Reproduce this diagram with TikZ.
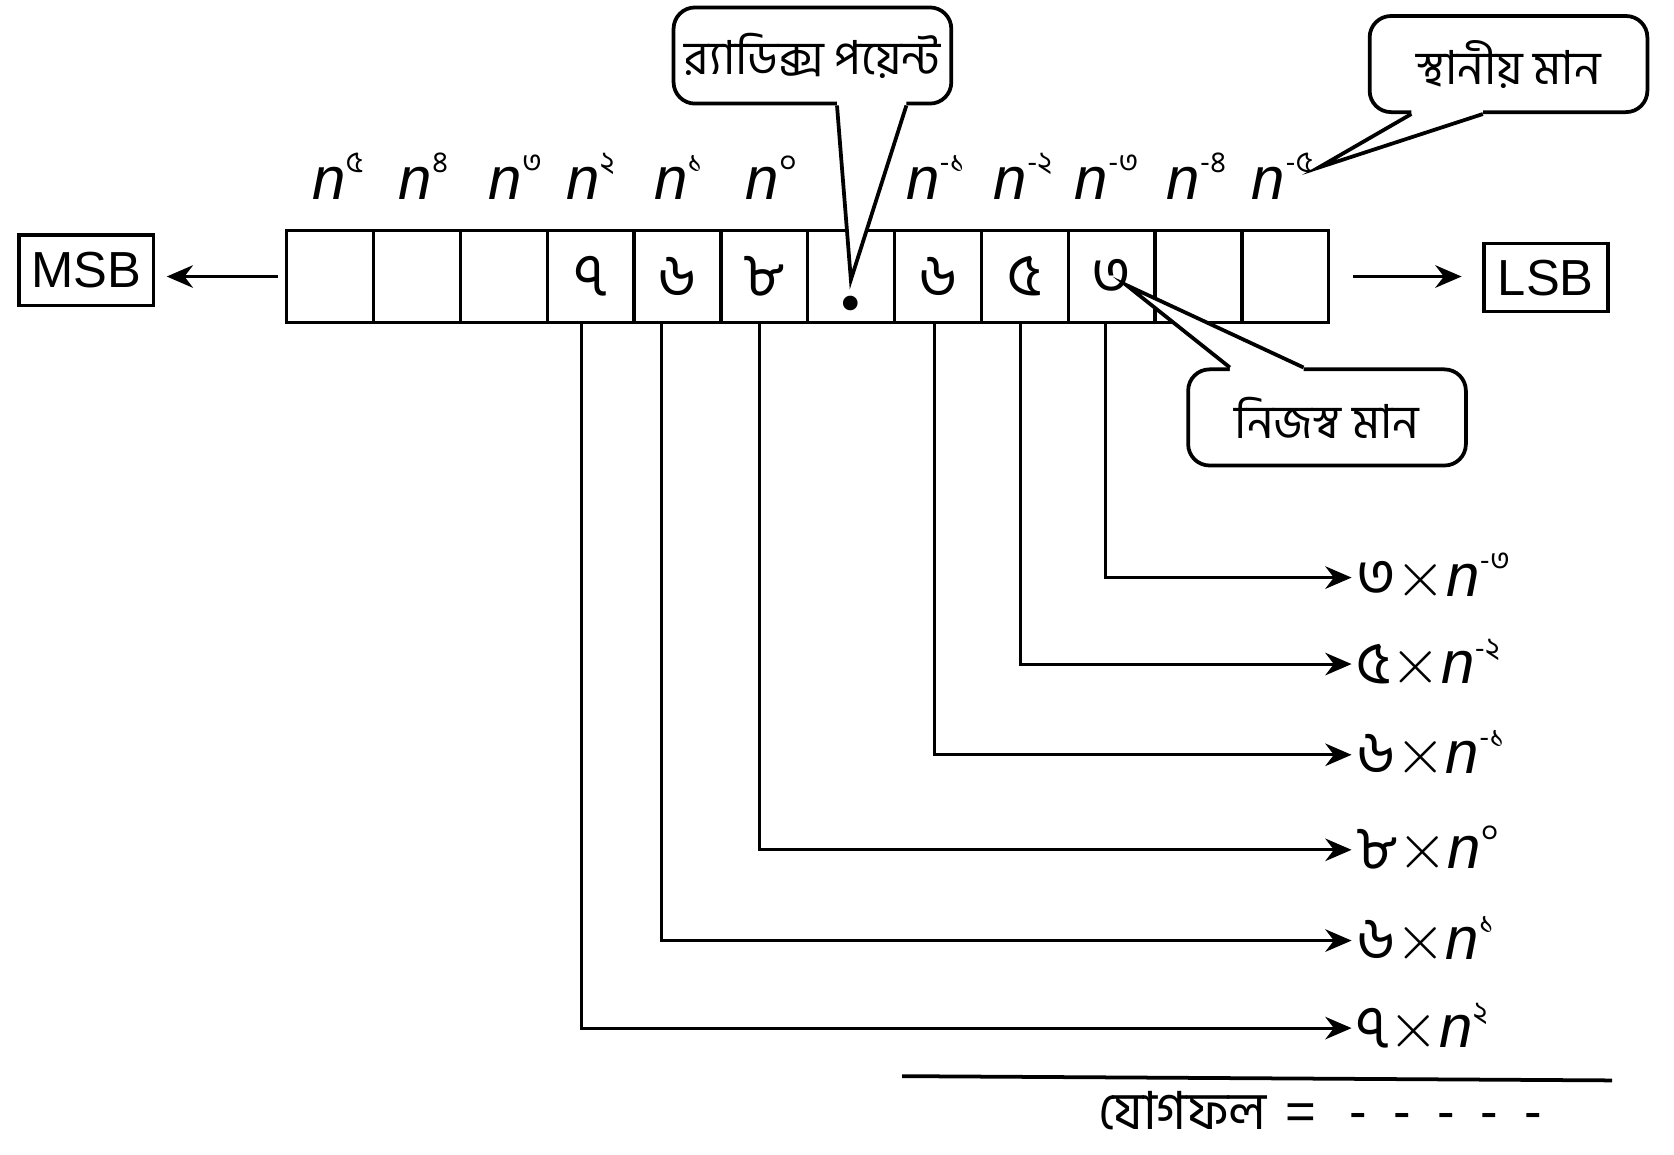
\documentclass[tikz,border=0pt]{standalone}
\usepackage{fontspec}
\setmainfont{Liberation Sans}
\newfontfamily\bn[Script=Bengali]{Hind Siliguri}
\newfontfamily\serifdot{Liberation Serif}
\usetikzlibrary{arrows.meta,calc}
\newcommand\nexp[1]{{\fontspec{Liberation Sans}\itshape n}\raisebox{0.85ex}{\fontsize{8}{8}\selectfont\bn #1}}
\begin{document}
\begin{tikzpicture}[x=0.01cm,y=-0.01cm,
  cell/.style={draw,line width=0.9pt,minimum width=0.813cm,minimum height=0.86cm,inner sep=0pt,font=\bn\fontsize{16}{16}\selectfont},
  expo/.style={inner sep=0pt,font=\fontsize{16}{16}\selectfont},
  rlab/.style={inner sep=1pt,anchor=west,font=\fontsize{16}{16}\selectfont\bn},
  bbox/.style={draw,line width=0.9pt,inner sep=0pt,font=\fontsize{13.5}{13.5}\selectfont},
  callout/.style={draw,line width=1pt,rounded corners=0.2cm,minimum width=2.6cm,minimum height=0.9cm,inner sep=0pt,font=\bn\fontsize{12.5}{12.5}\selectfont},
  ptr/.style={line width=1pt,line join=miter},
  arr/.style={line width=0.8pt,-{Stealth[length=7pt,width=6pt]}},
]
\useasboundingbox (0,0) rectangle (1568,1081);

% cells
\foreach \i/\t in {0/,1/,2/,3/৭,4/৬,5/৮,6/,7/৬,8/৫,9/৩,10/,11/}
  \node[cell] (c\i) at ({309.3+81.33*\i},259) {\t};
\node[inner sep=0pt,anchor=base,font=\serifdot\bfseries\fontsize{24}{24}\selectfont] (dot) at (797,290) {.};

% exponent labels
\foreach \i/\x/\e in {0/292/৫,1/373/৪,2/457/৩,3/530/২,4/612/১,5/698/০,7/848/-১,8/930/-২,9/1006/-৩,10/1092/-৪,11/1172/-৫}
  \node[expo,anchor=base west] (e\i) at (\x,187) {\nexp{\e}};

% MSB / LSB
\node[bbox,minimum width=1.26cm,minimum height=0.66cm] (msb) at (81,253) {MSB};
\node[bbox,minimum width=1.16cm,minimum height=0.64cm] (lsb) at (1448,260) {LSB};
\draw[arr,shorten <=2pt,shorten >=3pt] (c0.west) -- (c0.west -| msb.east);
\draw[arr,shorten <=6pt,shorten >=5.5pt] (c11.east) -- (c11.east -| lsb.west);

% right labels
\node[rlab] (r3) at (1266,541) {৩$\times$\nexp{-৩}};
\node[rlab] (r5) at (1266,622) {৫$\times$\nexp{-২}};
\node[rlab] (r6b) at (1266,707) {৬$\times$\nexp{-১}};
\node[rlab] (r8) at (1266,796) {৮$\times$\nexp{০}};
\node[rlab] (r6a) at (1266,881) {৬$\times$\nexp{১}};
\node[rlab] (r7) at (1266,963) {৭$\times$\nexp{২}};

\draw[arr] ($(c9.south)+(-6,0)$) |- (r3.west);
\draw[arr] ($(c8.south)+(-4,0)$) |- (r5.west);
\draw[arr] ($(c7.south)+(-3,0)$) |- (r6b.west);
\draw[arr] ($(c5.south)+(-5,0)$) |- (r8.west);
\draw[arr] ($(c4.south)+(-15,0)$) |- (r6a.west);
\draw[arr] ($(c3.south)+(-9,0)$) |- (r7.west);

% callouts
\node[callout] (rp) at (761,52) {র‍্যাডিক্স পয়েন্ট};
\coordinate (rptip) at (797,262);
\fill[white] ($(rp.south)+(23,-4)$) -- ($(rp.south)+(23,0)$) -- (rptip) -- ($(rp.south)+(88,0)$) -- ($(rp.south)+(88,-4)$) -- cycle;
\draw[ptr] ($(rp.south)+(23,0)$) -- (rptip) -- ($(rp.south)+(88,0)$);

\node[callout] (sm) at (1413,60) {স্থানীয় মান};
\coordinate (smtip) at (1235,157);
\fill[white] ($(sm.south)+(-91,-4)$) -- ($(sm.south)+(-91,0)$) -- (smtip) -- ($(sm.south)+(-24,0)$) -- ($(sm.south)+(-24,-4)$) -- cycle;
\draw[ptr] ($(sm.south)+(-91,0)$) -- (smtip) -- ($(sm.south)+(-24,0)$);

\node[callout] (nm) at (1243,391) {নিজস্ব মান};
\coordinate (nmtip) at (1055,267);
\fill[white] ($(nm.north)+(-91,4)$) -- ($(nm.north)+(-91,0)$) -- (nmtip) -- ($(nm.north)+(-22,0)$) -- ($(nm.north)+(-22,4)$) -- cycle;
\draw[ptr] ($(nm.north)+(-91,0)$) -- (nmtip) -- ($(nm.north)+(-22,0)$);

% sum
\coordinate (s1) at (845,1008);
\coordinate (s2) at (1510,1012);
\draw[line width=1pt] (s1) -- (s2);
\node[anchor=base west,inner sep=0pt,font=\fontsize{14}{14}\selectfont] (sum) at (1028,1058) {{\bn যোগফল}\hspace{5pt}=\hspace{9pt}-\hspace{7pt}-\hspace{7pt}-\hspace{7pt}-\hspace{7pt}-};
\end{tikzpicture}
\end{document}
